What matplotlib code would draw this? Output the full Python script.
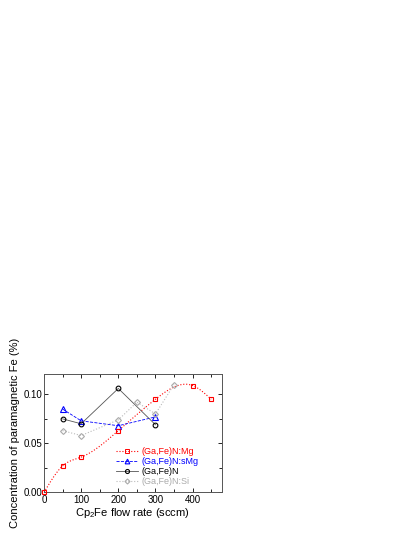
import numpy as np
import matplotlib
matplotlib.use('Agg')
import matplotlib.pyplot as plt
from matplotlib.ticker import MultipleLocator

# data
x_mg = [0, 50, 100, 200, 300, 400, 450]
y_mg = [0.0, 0.027, 0.036, 0.063, 0.095, 0.109, 0.095]

x_smg = [50, 100, 200, 300]
y_smg = [0.085, 0.073, 0.068, 0.077]

x_n = [50, 100, 200, 300]
y_n = [0.075, 0.070, 0.106, 0.069]

x_si = [50, 100, 200, 250, 300, 350]
y_si = [0.063, 0.058, 0.074, 0.092, 0.080, 0.110]

labels = ['(Ga,Fe)N:Mg', '(Ga,Fe)N:sMg', '(Ga,Fe)N', '(Ga,Fe)N:Si']


def natural_spline(x, y, n=300):
    # natural cubic spline, only used to draw the smooth guide line
    x = np.asarray(x, float)
    y = np.asarray(y, float)
    k = len(x)
    h = np.diff(x)
    A = np.zeros((k, k))
    b = np.zeros(k)
    A[0, 0] = A[-1, -1] = 1
    for i in range(1, k - 1):
        A[i, i - 1] = h[i - 1]
        A[i, i] = 2 * (h[i - 1] + h[i])
        A[i, i + 1] = h[i]
        b[i] = 6 * ((y[i + 1] - y[i]) / h[i] - (y[i] - y[i - 1]) / h[i - 1])
    M = np.linalg.solve(A, b)
    xs = np.linspace(x[0], x[-1], n)
    idx = np.clip(np.searchsorted(x, xs) - 1, 0, k - 2)
    x0, x1 = x[idx], x[idx + 1]
    hh = x1 - x0
    t0, t1 = x1 - xs, xs - x0
    ys = (M[idx] * t0**3 + M[idx + 1] * t1**3) / (6 * hh) \
        + (y[idx] / hh - M[idx] * hh / 6) * t0 \
        + (y[idx + 1] / hh - M[idx + 1] * hh / 6) * t1
    return xs, ys


plt.rcParams['font.family'] = ['Liberation Sans', 'DejaVu Sans']
plt.rcParams['font.size'] = 7
plt.rcParams['mathtext.fontset'] = 'custom'
plt.rcParams['mathtext.rm'] = 'Liberation Sans'
plt.rcParams['mathtext.it'] = 'Liberation Sans'

fig = plt.figure(figsize=(4.15, 5.37), dpi=100)
ax = fig.add_axes([0.106, 0.083, 0.428, 0.221])

ms = 3.4
xs, ys = natural_spline(x_mg, y_mg)
ax.plot(xs, ys, color='red', ls=':', lw=0.8)
ax.plot(x_mg, y_mg, ls='none', marker='s', ms=ms, mfc='none', mec='red',
        mew=0.8, clip_on=False, zorder=5)
ax.plot([], [], color='red', ls=':', lw=0.8, marker='s', ms=ms - 0.6, mfc='none',
        mec='red', mew=0.7, label=labels[0])

ax.plot(x_smg, y_smg, color='blue', ls='--', lw=0.6, marker='^', ms=ms + 0.6,
        mfc='none', mec='blue', mew=0.8, label=labels[1])
ax.plot(x_n, y_n, color='#555555', ls='-', lw=0.6, marker='o', ms=ms,
        mfc='none', mec='black', mew=0.8, label=labels[2])
ax.plot(x_si, y_si, color='#bbbbbb', ls=':', lw=0.8, marker='D', ms=ms - 0.4,
        mfc='none', mec='#aaaaaa', mew=0.8, label=labels[3])

ax.set_xlim(0, 478)
ax.set_ylim(0, 0.121)
ax.xaxis.set_major_locator(MultipleLocator(100))
ax.xaxis.set_minor_locator(MultipleLocator(50))
ax.yaxis.set_major_locator(MultipleLocator(0.05))
ax.yaxis.set_minor_locator(MultipleLocator(0.025))
ax.yaxis.set_major_formatter(plt.FormatStrFormatter('%.2f'))
ax.tick_params(which='both', direction='in', top=True, right=True, width=0.6)
ax.tick_params(which='major', length=3, labelsize=7, pad=1.5)
ax.tick_params(which='minor', length=2)
for s in ax.spines.values():
    s.set_linewidth(0.7)
    s.set_color('#555555')

ax.set_xlabel('Cp$_2$Fe flow rate (sccm)', fontsize=8, labelpad=1)
ax.set_ylabel('Concentration of paramagnetic Fe (%)', fontsize=8, labelpad=2)

leg = ax.legend(loc='lower left', bbox_to_anchor=(0.37, 0.0), frameon=False,
                fontsize=6.5, handlelength=2.4, handletextpad=0.4,
                labelspacing=0.12, borderpad=0.2, markerscale=0.85)
for txt, c in zip(leg.get_texts(), ['red', 'blue', 'black', '#aaaaaa']):
    txt.set_color(c)

fig.savefig('out.png', dpi=100)
